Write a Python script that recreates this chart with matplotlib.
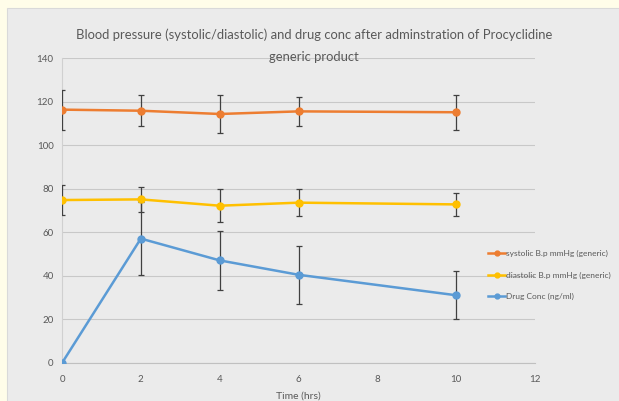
import matplotlib.pyplot as plt
from matplotlib.patches import Rectangle
from matplotlib.lines import Line2D

# time points (hrs)
time = [0, 2, 4, 6, 10]

systolic = [116.3, 115.8, 114.3, 115.5, 115.1]
systolic_err = [9.2, 7.2, 8.5, 6.8, 8.0]

diastolic = [74.8, 75.1, 72.2, 73.6, 72.8]
diastolic_err = [7.0, 5.8, 7.6, 6.3, 5.4]

drug = [0, 57.1, 47.1, 40.5, 31.1]
drug_err = [0, 16.9, 13.6, 13.3, 11.1]

labels = ['systolic B.p mmHg (generic)', 'diastolic B.p mmHg (generic)', 'Drug Conc (ng/ml)']
colors = ['#ed7d31', '#ffc000', '#5b9bd5']

plt.rcParams['font.family'] = ['Lato', 'DejaVu Sans']

fig = plt.figure(figsize=(6.19, 4.01), dpi=100)
fig.patch.set_facecolor('#fffde9')
# chart area
fig.patches.append(Rectangle((7 / 619, -0.01), 1, 1 - 8 / 401 + 0.01, transform=fig.transFigure,
                             facecolor='#ebebeb', edgecolor='#d9d9d9', lw=0.8, zorder=-5))

ax = fig.add_axes([62 / 619, 38 / 401, 473 / 619, 305 / 401])
ax.set_facecolor('#ebebeb')

err_kw = dict(fmt='none', ecolor='#404040', elinewidth=0.9, capsize=2.2, capthick=0.9, zorder=3)
line_kw = dict(marker='o', ms=5, lw=1.8, zorder=4)

ax.errorbar(time, systolic, yerr=systolic_err, **err_kw)
ax.plot(time, systolic, color=colors[0], **line_kw)
ax.errorbar(time, diastolic, yerr=diastolic_err, **err_kw)
ax.plot(time, diastolic, color=colors[1], **line_kw)
ax.errorbar(time[1:], drug[1:], yerr=drug_err[1:], **err_kw)
ax.plot(time, drug, color=colors[2], **line_kw)

ax.set_xlim(0, 12)
ax.set_ylim(0, 140)
ax.set_xticks(range(0, 13, 2))
ax.set_yticks(range(0, 141, 20))
ax.grid(axis='y', color='#c8c8c8', lw=0.8)
ax.set_axisbelow(True)
for s in ['top', 'right']:
    ax.spines[s].set_visible(False)
ax.spines['bottom'].set_color('#c0c0c0')
ax.spines['left'].set_color('#d0d0d0')
ax.tick_params(axis='both', length=0, labelsize=7, labelcolor='#595959')
ax.tick_params(axis='x', pad=9)
ax.tick_params(axis='y', pad=6)

ax.set_xlabel('Time (hrs)', fontsize=7.5, color='#595959', labelpad=5)
fig.text(0.507, 1 - 35 / 401, 'Blood pressure (systolic/diastolic) and drug conc after adminstration of Procyclidine',
         ha='center', va='center', fontsize=9.4, color='#595959')
fig.text(0.507, 1 - 57 / 401, 'generic product',
         ha='center', va='center', fontsize=9.4, color='#595959')

handles = [Line2D([], [], color=c, marker='o', ms=3.5, lw=1.8) for c in colors]
fig.legend(handles, labels, loc='center left', bbox_to_anchor=(484 / 619, 1 - 275 / 401), frameon=False,
           fontsize=6, labelcolor='#595959', handlelength=2.0, handletextpad=0.2,
           labelspacing=1.75, borderpad=0)

plt.savefig('out.png', dpi=100, facecolor=fig.get_facecolor())
